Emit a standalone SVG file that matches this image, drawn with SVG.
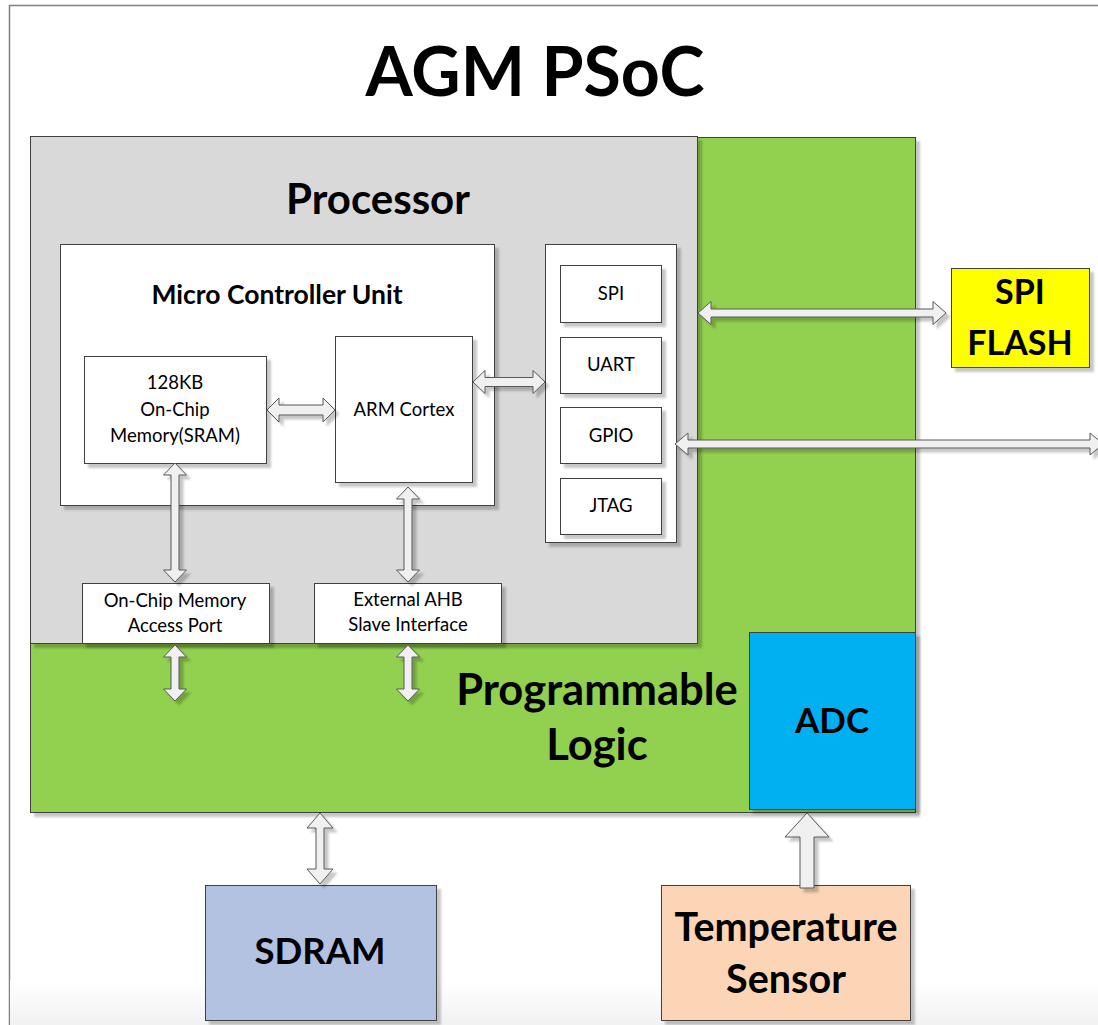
<svg xmlns="http://www.w3.org/2000/svg" width="1098" height="1025" viewBox="0 0 1098 1025">
<style>
text{font-family:Lato,"Open Sans","Liberation Sans",sans-serif;fill:#000;text-anchor:middle}
.b{font-weight:bold}
.box{stroke:#404040;stroke-width:1}
.w{fill:#fff}
.arr{fill:#f0f0f0;stroke:#595959;stroke-width:1;stroke-linejoin:miter}
.sm{font-size:18.5px}
</style>
<defs>
<filter id="sh" x="-10%" y="-10%" width="130%" height="130%">
<feDropShadow dx="4" dy="4" stdDeviation="1" flood-color="#000" flood-opacity="0.22"/>
</filter>
<linearGradient id="bg" x1="0" y1="0" x2="0" y2="1">
<stop offset="0" stop-color="#fff"/>
<stop offset="1" stop-color="#f2f2f2"/>
</linearGradient>
</defs>
<rect x="0" y="0" width="1098" height="1025" fill="#fff"/>
<rect x="9.5" y="5.5" width="1200" height="1100" fill="#fff" stroke="#808080" stroke-width="1.5"/>
<rect x="10" y="980" width="1088" height="45" fill="url(#bg)"/>
<text class="b" x="535" y="96" font-size="68">AGM PSoC</text>

<g id="programmable-logic">
<rect class="box" x="30.5" y="137.5" width="885" height="675" fill="#92d050" filter="url(#sh)"/>
<text class="b" x="597" y="705" font-size="43.5">Programmable</text>
<text class="b" x="597" y="760" font-size="43.5">Logic</text>
</g>
<g id="processor">
<rect class="box" x="30.5" y="136.5" width="667" height="507" fill="#d9d9d9" filter="url(#sh)"/>
<text class="b" x="378" y="214" font-size="42">Processor</text>
</g>
<g id="mcu">
<rect class="box w" x="60.5" y="244.5" width="434" height="261" filter="url(#sh)"/>
<text class="b" x="277" y="304" font-size="26.5">Micro Controller Unit</text>
</g>
<g id="sram">
<rect class="box w" x="84.5" y="356.5" width="182" height="107" filter="url(#sh)"/>
<text class="sm" x="175" y="389">128KB</text>
<text class="sm" x="175" y="416">On-Chip</text>
<text class="sm" x="175" y="442">Memory(SRAM)</text>
</g>
<g id="arm-cortex">
<rect class="box w" x="335.5" y="336.5" width="137" height="146" filter="url(#sh)"/>
<text class="sm" x="404" y="416">ARM Cortex</text>
</g>
<g id="peripherals">
<rect class="box w" x="545.5" y="244.5" width="131" height="298" filter="url(#sh)"/>
</g>
<g id="spi">
<rect class="box w" x="560.5" y="265.5" width="101" height="57" filter="url(#sh)"/>
<text class="sm" x="611" y="300">SPI</text>
</g>
<g id="uart">
<rect class="box w" x="560.5" y="337.5" width="101" height="56" filter="url(#sh)"/>
<text class="sm" x="611" y="371">UART</text>
</g>
<g id="gpio">
<rect class="box w" x="560.5" y="407.5" width="101" height="56" filter="url(#sh)"/>
<text class="sm" x="611" y="442">GPIO</text>
</g>
<g id="jtag">
<rect class="box w" x="560.5" y="478.5" width="101" height="56" filter="url(#sh)"/>
<text class="sm" x="611" y="512">JTAG</text>
</g>
<g id="onchip-port">
<rect class="box w" x="82.5" y="583.5" width="187" height="60" filter="url(#sh)"/>
<text class="sm" x="175" y="607">On-Chip Memory</text>
<text class="sm" x="175" y="632">Access Port</text>
</g>
<g id="ahb">
<rect class="box w" x="314.5" y="583.5" width="187" height="60" filter="url(#sh)"/>
<text class="sm" x="408" y="606">External AHB</text>
<text class="sm" x="408" y="631">Slave Interface</text>
</g>
<g id="adc">
<rect class="box" x="749.5" y="632.5" width="166" height="177" fill="#00b0f0" filter="url(#sh)"/>
<text class="b" x="832" y="733" font-size="35">ADC</text>
</g>
<g id="spi-flash">
<rect class="box" x="951.5" y="268.5" width="138" height="99" fill="#ffff00" filter="url(#sh)"/>
<text class="b" x="1020" y="304" font-size="34">SPI</text>
<text class="b" x="1020" y="355" font-size="34">FLASH</text>
</g>
<g id="sdram">
<rect class="box" x="205.5" y="885.5" width="231" height="135" fill="#b4c2e2" filter="url(#sh)"/>
<text class="b" x="320" y="964" font-size="36.5">SDRAM</text>
</g>
<g id="temp-sensor">
<rect class="box" x="661.5" y="885.5" width="249" height="135" fill="#fbd5b5" filter="url(#sh)"/>
<text class="b" x="786" y="941" font-size="39.5">Temperature</text>
<text class="b" x="786" y="993" font-size="39.5">Sensor</text>
</g>

<g id="connectors" filter="url(#sh)">
<path class="arr" d="M267 410 L279 398 L279 405 L323 405 L323 398 L335 410 L323 422 L323 415 L279 415 L279 422 Z"/>
<path class="arr" d="M473 382 L485 370.5 L485 377.5 L533 377.5 L533 370.5 L545 382 L533 393.5 L533 386.5 L485 386.5 L485 393.5 Z"/>
<path class="arr" d="M698 313 L711 301.5 L711 309 L933 309 L933 301.5 L946 313 L933 324.5 L933 317 L711 317 L711 324.5 Z"/>
<path class="arr" d="M675 444 L688 433 L688 440 L1090 440 L1090 433 L1103 444 L1090 455 L1090 448 L688 448 L688 455 Z"/>
<path class="arr" d="M175 463 L186.5 475 L179 475 L179 570 L186.5 570 L175 582 L163.5 570 L171 570 L171 475 L163.5 475 Z"/>
<path class="arr" d="M408 487 L419.5 499 L412 499 L412 570 L419.5 570 L408 582 L396.5 570 L404 570 L404 499 L396.5 499 Z"/>
<path class="arr" d="M175 645 L186.5 657 L179 657 L179 689 L186.5 689 L175 701 L163.5 689 L171 689 L171 657 L163.5 657 Z"/>
<path class="arr" d="M408 645 L419.5 657 L412 657 L412 689 L419.5 689 L408 701 L396.5 689 L404 689 L404 657 L396.5 657 Z"/>
<path class="arr" d="M320 813 L333 828 L324 828 L324 869 L333 869 L320 884 L307 869 L316 869 L316 828 L307 828 Z"/>
<path class="arr" d="M807 813 L829 837 L814 837 L814 888 L800 888 L800 837 L785 837 Z"/>
</g>
</svg>
